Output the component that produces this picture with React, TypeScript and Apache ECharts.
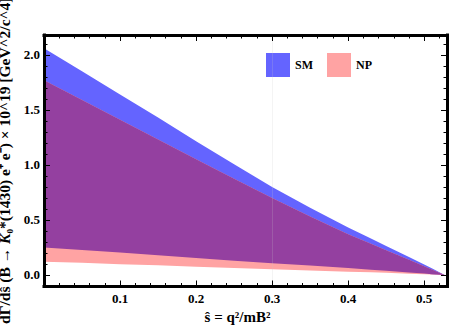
import React, { useEffect, useRef } from "react";
import * as echarts from "echarts";

// ŝ values (x) and band edges
const S = [0, 0.05, 0.1, 0.15, 0.2, 0.25, 0.3, 0.35, 0.4, 0.43, 0.45, 0.48, 0.5, 0.51, 0.527];
const SM_UPPER = [2.06, 1.85, 1.64, 1.43, 1.215, 1.005, 0.8, 0.61, 0.43, 0.33, 0.263, 0.163, 0.095, 0.06, 0];
const SM_LOWER = [0.25, 0.227, 0.204, 0.18, 0.155, 0.13, 0.107, 0.085, 0.062, 0.048, 0.038, 0.022, 0.012, 0.007, 0];
const NP_UPPER = [1.77, 1.59, 1.41, 1.23, 1.05, 0.875, 0.7, 0.53, 0.37, 0.283, 0.225, 0.138, 0.08, 0.05, 0];
const NP_LOWER = [0.12, 0.11, 0.098, 0.087, 0.075, 0.063, 0.052, 0.041, 0.03, 0.024, 0.019, 0.011, 0.006, 0.003, 0];

// ticks
const X_MAJOR = [0.1, 0.2, 0.3, 0.4, 0.5];
const X_MINOR = [0.02, 0.04, 0.06, 0.08, 0.12, 0.14, 0.16, 0.18, 0.22, 0.24, 0.26, 0.28, 0.32, 0.34, 0.36, 0.38, 0.42, 0.44, 0.46, 0.48, 0.52];
const Y_MAJOR = [0, 0.5, 1, 1.5, 2];
const Y_MINOR = [0.1, 0.2, 0.3, 0.4, 0.6, 0.7, 0.8, 0.9, 1.1, 1.2, 1.3, 1.4, 1.6, 1.7, 1.8, 1.9, 2.1];
const GRID_X = [0.3];

const X_MIN = 0;
const X_MAX = 0.53;
const Y_MIN = -0.105;
const Y_MAX = 2.18;

const SERIES_NAMES = ["SM", "NP"];
const X_NAME = "ŝ = q²/mB²";
const Y_NAME = "dΓ/dŝ (B → {k|K}₀*(1430) e⁺ e⁻) × 10^19 [GeV^2/c^4]";

const BLUE = "#6464ff";
const PINK = "#ffa3a3";
const PURPLE = "#9440a0";
const FONT = "'Liberation Serif', 'Times New Roman', serif";

export default function App() {
  const ref = useRef<HTMLDivElement>(null);

  useEffect(() => {
    if (!ref.current) return;
    const chart = echarts.init(ref.current, null, { renderer: "svg" });

    const ovLower = SM_LOWER.map((v, i) => Math.max(v, NP_LOWER[i]));
    const ovUpper = SM_UPPER.map((v, i) => Math.min(v, NP_UPPER[i]));

    const gridRect = { left: 44, right: 4, top: 35, bottom: 42.5, outerBoundsMode: "none", containLabel: false };
    const lbl = { fontFamily: FONT, fontWeight: "bold" as const, fontSize: 13, color: "#000" };

    const xAx = (grid: number, pos: string, ticks: number[], len: number, line: boolean, labels: boolean, extra: any = {}) => ({
      type: "value",
      gridIndex: grid,
      position: pos,
      min: X_MIN,
      max: X_MAX,
      z: 6,
      axisLine: { show: line, onZero: false, lineStyle: { color: "#000", width: 3, cap: "square" } },
      axisTick: { show: true, inside: true, length: len, customValues: ticks, lineStyle: { color: "#000", width: 1 } },
      axisLabel: labels
        ? { show: true, customValues: ticks, margin: 5, formatter: (v: number) => v.toFixed(1), ...lbl }
        : { show: false },
      splitLine: { show: false },
      ...extra,
    });
    const yAx = (grid: number, pos: string, ticks: number[], len: number, line: boolean, labels: boolean, extra: any = {}) => ({
      type: "value",
      gridIndex: grid,
      position: pos,
      min: Y_MIN,
      max: Y_MAX,
      z: 6,
      axisLine: { show: line, onZero: false, lineStyle: { color: "#000", width: 3, cap: "square" } },
      axisTick: { show: true, inside: true, length: len, customValues: ticks, lineStyle: { color: "#000", width: 1 } },
      axisLabel: labels
        ? { show: true, customValues: ticks, margin: 4, formatter: (v: number) => v.toFixed(1), ...lbl }
        : { show: false },
      splitLine: { show: false },
      ...extra,
    });

    const band = (name: string, upper: number[], lower: number[], color: string, extra: any = {}) => ({
      type: "custom",
      name,
      xAxisIndex: 0,
      yAxisIndex: 0,
      clip: true,
      silent: true,
      itemStyle: { color },
      data: [[S[0], upper[0]]],
      renderItem: (_params: any, api: any) => {
        const top = S.map((s, i) => api.coord([s, upper[i]]));
        const bottom = S.map((s, i) => api.coord([s, lower[i]])).reverse();
        return { type: "polygon", shape: { points: top.concat(bottom) }, style: { fill: color, stroke: null } };
      },
      ...extra,
    });

    chart.setOption({
      animation: false,
      backgroundColor: "#fff",
      grid: [{ ...gridRect, show: false }, { ...gridRect, show: false }],
      legend: {
        left: 266,
        top: 53,
        padding: 0,
        itemWidth: 24,
        itemHeight: 24,
        itemGap: 14,
        icon: "rect",
        selectedMode: false,
        textStyle: { fontFamily: FONT, fontWeight: "bold", fontSize: 12, color: "#000" },
        data: [
          { name: SERIES_NAMES[0], itemStyle: { color: BLUE } },
          { name: SERIES_NAMES[1], itemStyle: { color: PINK } },
        ],
      },
      xAxis: [
        xAx(0, "bottom", X_MAJOR, 6, true, true, {
          name: X_NAME,
          nameLocation: "middle",
          nameGap: 21,
          nameTextStyle: { fontFamily: FONT, fontWeight: "bold", fontSize: 15, color: "#000", padding: [0, 16, 0, 0] },
        }),
        xAx(0, "top", X_MAJOR, 6, true, false),
        xAx(1, "bottom", X_MINOR, 3.5, false, false),
        xAx(1, "top", X_MINOR, 3.5, false, false),
      ],
      yAxis: [
        yAx(0, "left", Y_MAJOR, 6, true, true, {
          name: Y_NAME,
          nameLocation: "middle",
          nameRotate: 90,
          nameGap: 30,
          nameTextStyle: {
            fontFamily: FONT,
            fontWeight: "bold",
            fontSize: 15.5,
            color: "#000",
            rich: { k: { fontFamily: FONT, fontWeight: "bold", fontStyle: "italic", fontSize: 15.5, color: "#000" } },
          },
        }),
        yAx(0, "right", Y_MAJOR, 6, true, false),
        yAx(1, "left", Y_MINOR, 3.5, false, false),
        yAx(1, "right", Y_MINOR, 3.5, false, false),
      ],
      series: [
        band(SERIES_NAMES[0], SM_UPPER, SM_LOWER, BLUE),
        band(SERIES_NAMES[1], NP_UPPER, NP_LOWER, PINK),
        band("overlap", ovUpper, ovLower, PURPLE, {
          markLine: {
            silent: true,
            symbol: "none",
            label: { show: false },
            lineStyle: { color: "rgba(200,200,200,0.2)", width: 1, type: "solid" },
            data: GRID_X.map((x) => ({ xAxis: x })),
          },
        }),
      ],
    });

    return () => chart.dispose();
  }, []);

  return <div ref={ref} style={{ position: "fixed", left: 0, top: 0, width: 451, height: 329 }} />;
}
